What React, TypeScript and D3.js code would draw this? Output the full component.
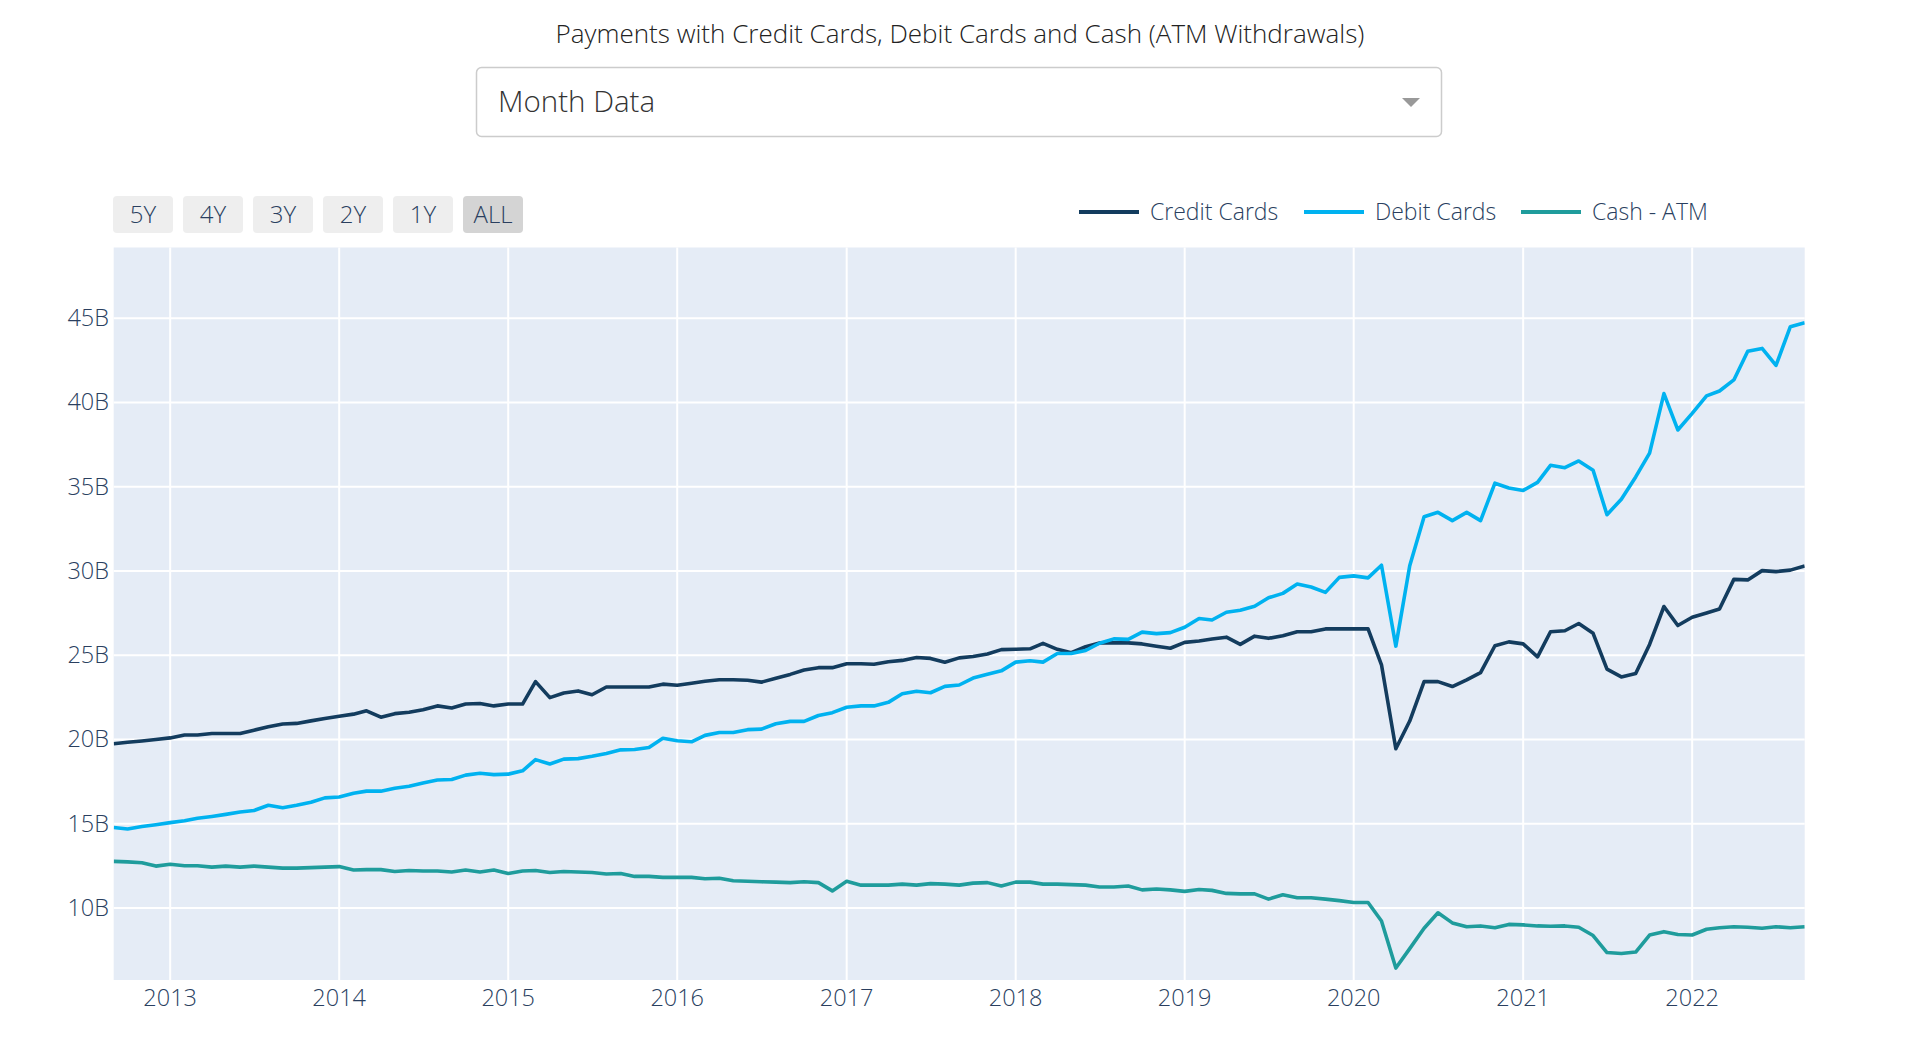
import * as d3 from "d3";

// monthly values, billions, Sep 2012 .. Sep 2022
const creditCards = [
  19.74, 19.83, 19.91, 20.0,
  20.09, 20.26, 20.26, 20.35, 20.35, 20.35, 20.55, 20.75, 20.92, 20.95, 21.1, 21.24,
  21.38, 21.5, 21.7, 21.32, 21.53, 21.61, 21.76, 21.99, 21.87, 22.1, 22.13, 21.99,
  22.1, 22.1, 23.43, 22.48, 22.76, 22.88, 22.65, 23.11, 23.11, 23.11, 23.11, 23.28,
  23.22, 23.34, 23.45, 23.54, 23.54, 23.51, 23.4, 23.63, 23.86, 24.12, 24.26, 24.26,
  24.49, 24.49, 24.46, 24.61, 24.69, 24.86, 24.81, 24.58, 24.84, 24.92, 25.07, 25.33,
  25.35, 25.38, 25.7, 25.35, 25.15, 25.5, 25.73, 25.73, 25.73, 25.67, 25.53, 25.41,
  25.76, 25.84, 25.96, 26.07, 25.64, 26.13, 26.0, 26.16, 26.39, 26.39, 26.56, 26.56,
  26.56, 26.56, 24.43, 19.45, 21.09, 23.43, 23.43, 23.14, 23.54, 23.97, 25.56, 25.79,
  25.67, 24.9, 26.39, 26.45, 26.88, 26.3, 24.17, 23.71, 23.91, 25.64, 27.89, 26.76,
  27.25, 27.51, 27.74, 29.5, 29.47, 30.02, 29.96, 30.05, 30.3,
];

const debitCards = [
  14.77, 14.68, 14.83, 14.94,
  15.06, 15.17, 15.32, 15.43, 15.55, 15.69, 15.78, 16.09, 15.95, 16.09, 16.27, 16.53,
  16.58, 16.81, 16.93, 16.93, 17.1, 17.22, 17.42, 17.59, 17.62, 17.88, 17.99, 17.91,
  17.94, 18.14, 18.8, 18.54, 18.83, 18.86, 19.0, 19.17, 19.38, 19.4, 19.52, 20.07,
  19.92, 19.86, 20.24, 20.41, 20.41, 20.58, 20.61, 20.93, 21.07, 21.07, 21.42, 21.59,
  21.91, 21.99, 21.99, 22.2, 22.71, 22.86, 22.77, 23.15, 23.23, 23.64, 23.87, 24.07,
  24.59, 24.67, 24.59, 25.1, 25.1, 25.28, 25.71, 25.97, 25.94, 26.37, 26.28, 26.34,
  26.66, 27.18, 27.09, 27.55, 27.67, 27.9, 28.41, 28.67, 29.22, 29.05, 28.73, 29.62,
  29.71, 29.59, 30.34, 25.54, 30.31, 33.22, 33.48, 32.99, 33.48, 32.99, 35.21, 34.92,
  34.78, 35.26, 36.27, 36.13, 36.53, 35.98, 33.34, 34.26, 35.58, 36.99, 40.53, 38.37,
  39.35, 40.39, 40.68, 41.34, 43.04, 43.21, 42.2, 44.5, 44.73,
];

const cashAtm = [
  12.76, 12.73, 12.68, 12.48,
  12.59, 12.5, 12.5, 12.42, 12.48, 12.42, 12.48, 12.42, 12.36, 12.36, 12.39, 12.42,
  12.45, 12.25, 12.27, 12.27, 12.16, 12.22, 12.19, 12.19, 12.13, 12.25, 12.13, 12.25,
  12.04, 12.19, 12.22, 12.1, 12.16, 12.13, 12.1, 12.01, 12.04, 11.87, 11.87, 11.81,
  11.81, 11.81, 11.73, 11.76, 11.61, 11.58, 11.55, 11.53, 11.5, 11.55, 11.5, 11.01,
  11.58, 11.35, 11.35, 11.35, 11.41, 11.35, 11.44, 11.41, 11.35, 11.47, 11.5, 11.3,
  11.53, 11.53, 11.41, 11.41, 11.38, 11.35, 11.24, 11.24, 11.3, 11.07, 11.12, 11.07,
  10.98, 11.09, 11.04, 10.86, 10.83, 10.83, 10.52, 10.78, 10.6, 10.6, 10.52, 10.43,
  10.32, 10.32, 9.22, 6.43, 7.58, 8.79, 9.71, 9.11, 8.88, 8.93, 8.82, 9.02,
  8.99, 8.93, 8.91, 8.93, 8.85, 8.36, 7.35, 7.29, 7.38, 8.39, 8.59, 8.42,
  8.39, 8.73, 8.82, 8.88, 8.85, 8.79, 8.88, 8.82, 8.88,
];

const months = d3.utcMonth.range(new Date(Date.UTC(2012, 8, 1)), new Date(Date.UTC(2022, 9, 1)));

const seriesNames = ["Credit Cards", "Debit Cards", "Cash - ATM"];
const seriesColors = ["#133c5e", "#00b2f0", "#1f9c9c"];
const seriesValues = [creditCards, debitCards, cashAtm];

const yTicks = [10, 15, 20, 25, 30, 35, 40, 45];
const rangeButtons = ["5Y", "4Y", "3Y", "2Y", "1Y", "ALL"];

const W = 1916;
const H = 1044;
const plot = { left: 113.7, right: 1804.7, top: 247.5, bottom: 980 };
const font = "'Open Sans', verdana, arial, sans-serif";
const tickColor = "#2a3f5f";

export default function App() {
  const x = d3
    .scaleUtc()
    .domain([months[0], months[months.length - 1]])
    .range([plot.left, plot.right]);
  const y = d3.scaleLinear().domain([5.72, 49.2]).range([plot.bottom, plot.top]);
  const line = d3
    .line<number>()
    .x((_, i) => x(months[i]))
    .y((d) => y(d));
  const yearTicks = x.ticks(d3.utcYear.every(1));

  return (
    <div style={{ position: "absolute", left: 0, top: 0 }}>
      <svg width={W} height={H} style={{ display: "block", fontFamily: font, fontWeight: 300 }}>
        <rect width={W} height={H} fill="#fff" />
        <text x={960} y={43} textAnchor="middle" fontSize={26} fill="#222">
          Payments with Credit Cards, Debit Cards and Cash (ATM Withdrawals)
        </text>

        {/* dropdown */}
        <rect x={476.5} y={67.5} width={965} height={69} rx={5} fill="#fff" stroke="#ccc" strokeWidth={1.5} />
        <text x={498} y={112} fontSize={29.5} fill="#333">
          Month Data
        </text>
        <path d="M1402,98 L1420,98 L1411,107 Z" fill="#999" />

        {/* range selector */}
        {rangeButtons.map((b, i) => (
          <g key={b} transform={`translate(${113 + i * 70},196)`}>
            <rect width={60} height={37} rx={4} fill={b === "ALL" ? "#d4d4d4" : "#eeeeee"} />
            <text x={30} y={27} textAnchor="middle" fontSize={24} fill={tickColor}>
              {b}
            </text>
          </g>
        ))}

        {/* legend */}
        {seriesNames.map((n, i) => {
          const lx = [1079, 1304, 1521][i];
          return (
            <g key={n}>
              <line x1={lx} x2={lx + 60} y1={212} y2={212} stroke={seriesColors[i]} strokeWidth={4} />
              <text x={lx + 71} y={220} fontSize={23} fill={tickColor}>
                {n}
              </text>
            </g>
          );
        })}

        {/* plot area */}
        <rect
          x={plot.left}
          y={plot.top}
          width={plot.right - plot.left}
          height={plot.bottom - plot.top}
          fill="#e5ecf6"
        />
        {yTicks.map((t) => (
          <g key={t}>
            <line x1={plot.left} x2={plot.right} y1={y(t)} y2={y(t)} stroke="#fff" strokeWidth={2} />
            <text x={109} y={y(t) + 8} textAnchor="end" fontSize={23.5} fill={tickColor}>
              {`${t}B`}
            </text>
          </g>
        ))}
        {yearTicks.map((t) => (
          <g key={t.getTime()}>
            <line x1={x(t)} x2={x(t)} y1={plot.top} y2={plot.bottom} stroke="#fff" strokeWidth={2} />
            <text x={x(t)} y={1006} textAnchor="middle" fontSize={23.5} fill={tickColor}>
              {d3.utcFormat("%Y")(t)}
            </text>
          </g>
        ))}

        <defs>
          <clipPath id="plotClip">
            <rect x={plot.left} y={plot.top} width={plot.right - plot.left} height={plot.bottom - plot.top} />
          </clipPath>
        </defs>
        <g clipPath="url(#plotClip)">
          {seriesValues.map((vals, i) => (
            <path
              key={seriesNames[i]}
              d={line(vals) || ""}
              fill="none"
              stroke={seriesColors[i]}
              strokeWidth={3.6}
              strokeLinejoin="round"
            />
          ))}
        </g>
      </svg>
    </div>
  );
}
